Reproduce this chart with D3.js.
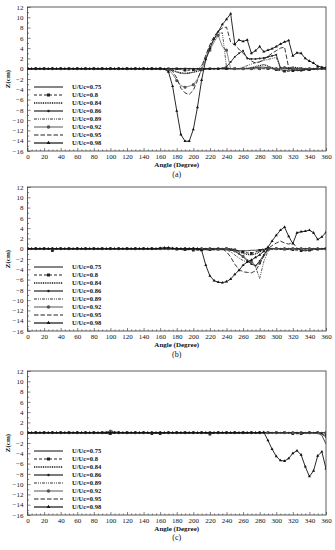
<!DOCTYPE html>
<html>
<head>
<meta charset="utf-8">
<script src="https://cdn.jsdelivr.net/npm/d3@7"></script>
<style>
  body { margin: 0; background: #fff; }
  svg { display: block; }
  text { font-family: "Liberation Serif", "Times New Roman", serif; fill: #111; }
</style>
</head>
<body>
<svg id="chart" width="335" height="550"></svg>
<script>
// x grid of the measurements (degrees, every 5)
const angles = d3.range(0, 361, 5);
const xTickValues = [0, 20, 40, 60, 80, 100, 120, 140, 160, 180, 200, 220, 240, 260, 280, 300, 320, 340, 360];
const yTickValues = [12, 10, 8, 6, 4, 2, 0, -2, -4, -6, -8, -10, -12, -14, -16];
const seriesNames = ['U/Uc=0.75', 'U/Uc=0.8', 'U/Uc=0.84', 'U/Uc=0.86', 'U/Uc=0.89', 'U/Uc=0.92', 'U/Uc=0.95', 'U/Uc=0.98'];
const panelLabels = ['(a)', '(b)', '(c)'];

// ---- panel (a) ----  (values at 0,5,...,360)
const a075 = [0,0,0,0,0,0,0,0,0,0,0,0, 0,0,0,0,0,0,0,0,0,0,0,0, 0,0,0,0,0,0,0,0,0,0,0,0,
  0,0,0.1,0,0,0,0,0,0,0,0,0, 0,0,0,0,0,0,0.1,0.2,0.3,0.3,0.2,0.1, 0,-0.2,-0.3,-0.3,-0.3,-0.3,-0.2,-0.2,-0.1,-0.1,0,0, 0];
const a080 = [0,0,0,0,0,0,0,0,0,0,0,0, 0,0,0,0,0,0,0,0,0,0,0,0, 0,0,0,0,0,0,0,0,0,0,0,0,
  0,-0.2,-0.3,-0.3,-0.2,-0.1,-0.2,-0.1,0,0,0,0, 0,0,0,0,0,0,0,0,0,0,0,0, -0.2,-0.4,-0.5,-0.5,-0.4,-0.4,-0.3,-0.3,-0.2,-0.1,0,0, 0];
const a084 = [0,0,0,0,0,0,0,0,0,0,0,0, 0,0,0,0,0,0,0,0,0,0,0,0, 0,0,0,0,0,0,0,0,0,0,-0.1,-0.3,
  -0.6,-0.8,-0.9,-0.8,-0.7,-0.5,-0.2,0,0,0,0,0, 0,0,0,0,0,0.1,0.2,0.4,0.6,0.8,0.5,0.2, 0,0,0.1,0.2,0.3,0.2,0.1,0,0,0,0,0, 0];
const a086 = [0,0,0,0,0,0,0,0,0,0,0,0, 0,0,0,0,0,0,0,0,0,0,0,0, 0,0,0,0,0,0,0,0,0,0,0,0,
  0,0,0,0,0,0,0,0,0,0,0,0.1, 0.4,1.3,2.3,3.0,3.5,2.0,1.9,1.9,2.0,2.1,2.3,2.5, 2.7,0.2,0.1,0,0,0,0,0,0,0,0,0, 0];
const a089 = [0,0,0,0,0,0,0,0,0,0,0,0, 0,0,0,0,0,0,0,0,0,0,0,0, 0,0,0,0,0,0,0,0,0,0,0,-0.3,
  -0.7,-0.9,-1.0,-0.9,-0.6,-0.2,0.6,2.5,4.4,5.8,6.7,7.0, 0.3,0,0,0,0.3,0.6,0.9,1.2,1.4,1.6,1.8,2.0, 2.2,0.1,0,0,0,0,0,0,0,0,0,0, 0];
const a092 = [0,0,0,0,0,0,0,0,0,0,0,0, 0,0,0,0,0,0,0,0,0,0,0,0, 0,0,0,0,0,0,0,0,0,0,-0.2,-1.0,
  -2.3,-3.3,-3.6,-3.4,-3.1,-2.0,-0.2,1.8,3.6,5.2,6.5,4.3, 3.6,0,0,0,0,0,0,0,0,0.1,0.1,0, 0,0.1,0.2,0.2,0.1,0,0,0,0,0,0,0, 0];
const a095 = [0,0,0,0,0,0,0,0,0,0,0,0, 0,0,0,0,0,0,0,0,0,0,0,0, 0,0,0,0,0,0,0,0,0,0,0,-0.5,
  -1.8,-3.8,-4.7,-5.0,-4.2,-2.3,0.2,2.6,4.7,6.3,7.3,7.9, 8.1,5.2,4.6,3.8,3.0,2.2,1.5,1.1,1.3,1.8,2.4,3.0, 3.5,4.0,4.2,0.2,-0.2,-0.3,-0.3,-0.2,-0.2,-0.1,0,0, 0];
const a098 = [0,0,0,0,0,0,0,0,0,0,0,0, 0,0,0,0,0,0,0,0,0,0,0,0, 0,0,0,0,0,0,0,0,0,-0.1,-0.6,-3.4,
  -8.2,-12.8,-14.1,-14.1,-11.8,-7.5,-2.2,1.8,4.0,5.8,7.2,8.6, 9.6,10.7,4.8,5.6,5.3,5.6,3.0,3.5,4.3,3.3,3.6,3.9, 4.3,4.8,5.2,5.5,2.5,3.1,3.0,2.0,1.5,1.1,0.5,0.3, 0.2];

// ---- panel (b) ----
const b075 = [0,0,0,0,0,0,0,0,0,0,0,0, 0,0,0,0,0,0,0,0,0,0,0,0, 0,0,0,0,0,0,0,0,0,0,0,0,
  0,0,-0.1,-0.1,-0.2,-0.2,-0.2,-0.2,-0.2,-0.2,-0.2,-0.2, -0.2,-0.3,-0.3,-0.4,-0.4,-0.4,-0.3,-0.3,-0.2,-0.1,0,0, 0,0,0,0,0,0,0,0,0,0,0,0, 0];
const b080 = [0,0,0,0,0,0,-0.4,0,0,0,0,0, 0,0,0,0,0,0,0,0,0,0,0,0, 0,0,0,0,0,0,0,0,0,0,0,0,
  -0.1,-0.2,-0.2,-0.2,-0.3,-0.3,-0.2,-0.2,-0.2,-0.2,-0.1,-0.1, 0,0,-0.2,-0.4,-0.6,-0.8,-0.9,-0.6,-0.3,0,0,0, 0,-0.1,-0.1,-0.2,-0.2,-0.3,-0.4,-0.4,-0.3,-0.2,-0.1,0, 0];
const b084 = [0,0,0,0,0,0,0,0,0,0,0,0, 0,0,0,0,0,0,0,0,0,0,0,0, 0,0,0,0,0,0,0,0,0,0,0,0,
  0,0,0,0,0,0,0,0,0,0,0,0, 0,0,-0.3,-0.6,-0.9,-1.1,-1.2,-1.0,-0.6,-0.2,0,0, 0,0,0,0,0,0,0,0,0,0,0,0, 0];
const b086 = [0,0,0,0,0,0,0,0,0,0,0,0, 0,0,0,0,0,0,0,0,0,0,0,0, 0,0,0,0,0,0,0,0,0,0,0,0,
  0,0,0,0,0,0,0,0,0,0,0,0, 0,-0.2,-0.5,-1.0,-1.6,-2.3,-3.0,-3.3,-2.4,-1.2,0,0, 0,0,0,0,0,0,0,0,0,0,0,0, 0];
const b089 = [0,0,0,0,0,0,0,0,0,0,0,0, 0,0,0,0,0,0,0,0,0,0,0,0, 0,0,0,0,0,0,0,0,0,0,0,0,
  0,0,0,0,0,0,0,0,0,0,0,0, -0.2,-0.6,-1.2,-1.8,-2.3,-2.6,-2.2,-3.5,-5.8,-2.5,-0.5,0, 0,0,0,0,0,0,0,0,0,0,0,0, 0];
const b092 = [0,0,0,0,0,0,0,0,0,0,0,0, 0,0,0,0,0,0,0,0,0,0,0,0, 0,0,0,0,0,0,0,0,0,0,0,0,
  0,0,0,0,0,0,0,0,0,0,0,0, 0,0,-0.4,-0.9,-1.5,-2.1,-2.6,-3.4,-2.8,-1.5,-0.2,0, 0,0,0,0,0,0,0,0,0,0,0,0, 0];
const b095 = [0,0,0,0,0,0,0,0,0,0,0,0, 0,0,0,0,0,0,0,0,0,0,0,0, 0,0,0,0,0,0,0,0,0,0,0,0,
  0,0,0,0,0,0,0,0,0,0,0,0, -0.6,-1.6,-3.0,-4.0,-4.5,-4.6,-4.7,-4.3,-3.0,-1.4,0,0.6, 1.1,1.5,1.1,0.9,1.2,0.1,-0.3,-0.4,-0.3,-0.2,-0.1,0, 0];
const b098 = [0,0,0,0,0,0,0,0,0,0,0,0, 0,0,0,0,0,0,0,0,0,0,0,0, 0,0,0,0,0,0,0,0,0.1,0.2,0.2,0.1,
  0,0,0,0,0,0,-0.3,-3.2,-5.3,-6.2,-6.5,-6.6, -6.4,-5.9,-5.0,-4.2,-3.2,-2.6,-2.2,-1.7,-1.2,-0.5,0.3,1.5, 2.6,3.6,4.2,2.4,1.0,3.1,3.3,3.4,3.6,3.1,1.8,2.3, 3.2];

// ---- panel (c) ----
const c075 = [0,0,0,0,0,0,0,0,0,0,0,0, 0,0,0,0,0,0,0,0,0,0,0,0, 0,0,0,0,0,0,0,0,0,0,0,0,
  0,0,0,0,0,0,0,0,0,0,0,0, 0,0,0,0,0,0,0,0,0,0,0,0, 0,0,0,0,0,0,0,0,0,0,-0.1,-0.5, -2.2];
const c080 = [0,0,0,0,0,0,0,0,0,0,0,0, 0,0,0,0,0,0,0,-0.2,-0.2,0,0,0, 0,0,0,0,0,0,-0.2,0,-0.2,0,0,0,
  0,0,0,0,0,0,0,0,-0.3,0,0,0, 0,0,0,0,0,0,0,0,0,0,0,0, 0,0,0,0,-0.2,-0.2,-0.2,-0.1,0,0,0,-0.2, -0.5];
const c084 = [0,0,0,0,0,0,0,0,0,0,0,0, 0,0,0,0,0,0,0,0,0.3,0.2,0,0, 0,0,0,0,0,0,0,0,0,0,0,0,
  0,0,0,0,0,0,0,0,0,0,0,0, 0,0,0,0,0,0,0,0,0,0,0,0, 0,0,0,0,0,0,0,0,0,0,0,0, 0];
const c086 = [0,0,0,0,0,0,0,0,0,0,0,0, 0,0,0,0,0,0,0,0,0,0,0,0, 0,0,0,0,0,0,0,0,0,0,0,0,
  0,0,0,0,0,0,0,0,0,0,0,0, 0,0,0,0,0,0,0,0,0,0,0,0, 0,0,0,0,0,0,0,0,0,0,0,0, 0];
const c089 = [0,0,0,0,0,0,0,0,0,0,0,0, 0,0,0,0,0,0,0,0,0,0,0,0, 0,0,0,0,0,0,0,0,0,0,0,0,
  0,0,0,0,0,0,0,0,0,0,0,0, 0,0,0,0,0,0,0,0,0,0,0,0, 0,0,0,0,0,0,0,0,0,0,0,-0.3, -0.8];
const c092 = [0,0,0,0,0,0,0,0,0,0,0,0, 0,0,0,0,0,0,0,0.2,0.3,0,0,0, 0,0,0,0,0,0,0,0,0,0,0,0,
  0,0,0,0,0,0,0,0,0,0,0,0, 0,0,0,0,0,0,0,0,0,0,0,0, 0,0,0,0,0,0,0,0,0,0,0,0, 0];
const c095 = [0,0,0,0,0,0,0,0,0,0,0,0, 0,0,0,0,0,0,0,0,0,0,0,0, 0,0,0,0,0,0,0,0,0,0,0,0,
  0,0,0,0,0,0,0,0,0,0,0,0, 0,0,0,0,0,0,0,0,0,0,0,0, 0,0,0,0,0,0,0,0,0,0,0,-0.2, -1.0];
const c098 = [0,0,0,0,0,0,0,0,0,0,0,0, 0,0,0,0,0,0,0,0,0,0,0,0, 0,0,0,0,0,0,0,0,0,0,0,0,
  0,0,0,0,0,0,0,0,0,0,0,0, 0,0,0,0,0,0,0,0,0,0.1,-1.5,-3.2, -4.6,-5.4,-5.5,-5.0,-4.0,-3.5,-4.3,-6.6,-8.5,-7.4,-4.5,-3.7, -7.0];

const panels = [
  [a075, a080, a084, a086, a089, a092, a095, a098],
  [b075, b080, b084, b086, b089, b092, b095, b098],
  [c075, c080, c084, c086, c089, c092, c095, c098]
];

// line looks per series (same order as seriesNames)
const looks = [
  { dash: null,          w: 1.0, color: '#444', marker: null },
  { dash: '3,2',         w: 0.9, color: '#222', marker: d3.symbolSquare,   size: 7,   step: 2 },
  { dash: '1,0.8',       w: 1.3, color: '#111', marker: null },
  { dash: null,          w: 0.9, color: '#222', marker: d3.symbolCircle,   size: 3,   step: 1 },
  { dash: '3,1,1,1,1,1', w: 0.8, color: '#333', marker: null },
  { dash: null,          w: 0.7, color: '#555', marker: d3.symbolCircle,   size: 8,   step: 2 },
  { dash: '4.5,2',       w: 0.9, color: '#222', marker: null },
  { dash: null,          w: 0.9, color: '#111', marker: d3.symbolTriangle, size: 4,   step: 1 }
];

const svg = d3.select('#chart');
const left = 27.5, right = 326, plotH = 144;
const panelTops = [7, 187, 371];

const x = d3.scaleLinear().domain([0, 360]).range([left, right]);

panelTops.forEach((top, p) => {
  const y = d3.scaleLinear().domain([-16, 12]).range([top + plotH, top]);
  const g = svg.append('g');

  // axes, ticks pointing into the plot
  g.append('g').attr('transform', `translate(0,${top + plotH})`)
    .call(d3.axisBottom(x).tickValues(xTickValues).tickSize(-3).tickPadding(3.5));
  g.append('g').attr('transform', `translate(0,${top + plotH})`)
    .call(d3.axisBottom(x).tickValues(d3.range(5, 360, 5).filter(v => v % 20)).tickSize(-1.5).tickFormat(''));
  g.append('g').attr('transform', `translate(${left},0)`)
    .call(d3.axisLeft(y).tickValues(yTickValues).tickSize(-3).tickPadding(4));
  g.append('g').attr('transform', `translate(${left},0)`)
    .call(d3.axisLeft(y).tickValues(d3.range(-15, 12, 2)).tickSize(-1.5).tickFormat(''));
  g.selectAll('.domain').remove();
  g.selectAll('.tick line').attr('stroke', '#333').attr('stroke-width', 0.6);
  g.selectAll('.tick text').style('font-size', '7px').attr('fill', '#111');

  const clipId = 'clip' + p;
  g.append('clipPath').attr('id', clipId).append('rect')
    .attr('x', left).attr('y', top).attr('width', right - left).attr('height', plotH);

  const plot = g.append('g').attr('clip-path', `url(#${clipId})`);
  const line = d3.line().x((d, i) => x(angles[i])).y(d => y(d));

  panels[p].forEach((vals, s) => {
    const lk = looks[s];
    plot.append('path')
      .attr('d', line(vals))
      .attr('fill', 'none')
      .attr('stroke', lk.color)
      .attr('stroke-width', lk.w)
      .attr('stroke-dasharray', lk.dash);
    if (lk.marker) {
      const sym = d3.symbol().type(lk.marker).size(lk.size);
      plot.selectAll(null)
        .data(vals.map((v, i) => [angles[i], v]).filter((d, i) => i % lk.step === 0))
        .join('path')
        .attr('d', sym)
        .attr('transform', d => `translate(${x(d[0])},${y(d[1])})`)
        .attr('fill', lk.color);
    }
  });

  // frame
  g.append('rect')
    .attr('x', left).attr('y', top).attr('width', right - left).attr('height', plotH)
    .attr('fill', 'none').attr('stroke', '#333').attr('stroke-width', 0.8);

  // legend
  seriesNames.forEach((name, s) => {
    const lk = looks[s];
    const ly = top + 80 + s * 8;
    g.append('line')
      .attr('x1', 34).attr('x2', 63).attr('y1', ly).attr('y2', ly)
      .attr('stroke', lk.color).attr('stroke-width', lk.w + 0.3)
      .attr('stroke-dasharray', lk.dash);
    if (lk.marker) {
      g.append('path')
        .attr('d', d3.symbol().type(lk.marker).size(lk.size + 2))
        .attr('transform', `translate(48.5,${ly})`)
        .attr('fill', lk.color);
    }
    g.append('text')
      .attr('x', 72).attr('y', ly).attr('dy', '0.35em')
      .style('font-size', '6.5px').style('font-weight', 'bold')
      .text(name);
  });

  // titles
  g.append('text')
    .attr('x', (left + right) / 2).attr('y', top + plotH + 16)
    .attr('text-anchor', 'middle')
    .style('font-size', '7px').style('font-weight', 'bold')
    .text('Angle (Degree)');
  g.append('text')
    .attr('transform', `translate(10,${top + plotH / 2}) rotate(-90)`)
    .attr('text-anchor', 'middle')
    .style('font-size', '7px').style('font-weight', 'bold')
    .text('Z(cm)');
  g.append('text')
    .attr('x', (left + right) / 2).attr('y', top + plotH + (p === 2 ? 25 : 26))
    .attr('text-anchor', 'middle')
    .style('font-size', '8px')
    .text(panelLabels[p]);
});
</script>
</body>
</html>
